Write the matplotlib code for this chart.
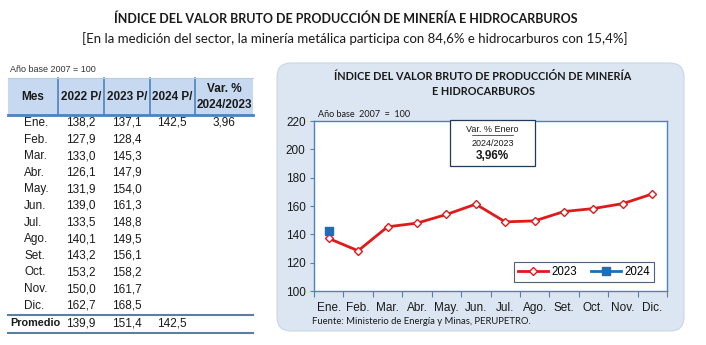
import matplotlib
matplotlib.use("Agg")
from matplotlib import pyplot as plt
from matplotlib.patches import FancyBboxPatch, Rectangle
from matplotlib.lines import Line2D

W, H = 706, 345

MONTHS = ["Ene.", "Feb.", "Mar.", "Abr.", "May.", "Jun.", "Jul.", "Ago.", "Set.", "Oct.", "Nov.", "Dic."]
V2022 = [138.2, 127.9, 133.0, 126.1, 131.9, 139.0, 133.5, 140.1, 143.2, 153.2, 150.0, 162.7]
V2023 = [137.1, 128.4, 145.3, 147.9, 154.0, 161.3, 148.8, 149.5, 156.1, 158.2, 161.7, 168.5]
V2024 = [142.5]
VAR = [3.96]
PROMEDIO = [139.9, 151.4, 142.5]
HEADERS = ["Mes", "2022 P/", "2023 P/", "2024 P/", "Var. %\n2024/2023"]

TITLE = "ÍNDICE DEL VALOR BRUTO DE PRODUCCIÓN DE MINERÍA E HIDROCARBUROS"
SUBTITLE = "[En la medición del sector, la minería metálica participa con 84,6% e hidrocarburos con 15,4%]"
CHART_TITLE = "ÍNDICE DEL VALOR BRUTO DE PRODUCCIÓN DE MINERÍA\nE HIDROCARBUROS"
SOURCE = "Fuente: Ministerio de Energía y Minas, PERUPETRO."

RED = "#e0191b"
BLUE = "#1f6db5"
LINE_BLUE = "#4f81bd"


def fx(x):
    return x / W


def fy(y):
    return 1 - y / H


def fmt(v):
    return f"{v:.1f}".replace(".", ",")


fig = plt.figure(figsize=(W / 100, H / 100), dpi=100)

# titles
fig.text(fx(346), fy(19), TITLE, ha="center", va="center", fontsize=9,
         fontweight="bold", family="Lato", color="#1a1a1a")
fig.text(fx(355), fy(39), SUBTITLE, ha="center", va="center", fontsize=9.5,
         family="Lato", color="#1a1a1a")

# ---- table ----
tf = "Liberation Sans"
fig.text(fx(10), fy(70), "Año base 2007 = 100", ha="left", va="center", fontsize=6.5,
         family=tf, color="#333333")
fig.patches.append(Rectangle((fx(8), fy(115)), fx(253 - 8), (115 - 78) / H,
                             transform=fig.transFigure, facecolor="#c6d9f1",
                             edgecolor="none"))
for xb in [58, 104, 150, 195]:
    fig.lines.append(Line2D([fx(xb), fx(xb)], [fy(78), fy(115)], transform=fig.transFigure,
                            color=LINE_BLUE, lw=1.2))
fig.lines.append(Line2D([fx(8), fx(253)], [fy(78), fy(78)], transform=fig.transFigure,
                        color="#b8cce4", lw=0.8))
fig.lines.append(Line2D([fx(8), fx(253)], [fy(115), fy(115)], transform=fig.transFigure,
                        color=LINE_BLUE, lw=2))

col_x = [33, 81, 127, 172, 224]
for cx, h in zip(col_x, HEADERS):
    fig.text(fx(cx), fy(97), h, ha="center", va="center", fontsize=8.5, fontweight="bold",
             family=tf, color="#1a1a1a", linespacing=1.5)

row_y = [123 + i * 16.6 for i in range(12)]
for i, m in enumerate(MONTHS):
    y = fy(row_y[i])
    fig.text(fx(24), y, m, ha="left", va="center", fontsize=8.5, family=tf, color="#1a1a1a")
    fig.text(fx(col_x[1]), y, fmt(V2022[i]), ha="center", va="center", fontsize=8.5,
             family=tf, color="#1a1a1a")
    fig.text(fx(col_x[2]), y, fmt(V2023[i]), ha="center", va="center", fontsize=8.5,
             family=tf, color="#1a1a1a")
    if i < len(V2024):
        fig.text(fx(col_x[3]), y, fmt(V2024[i]), ha="center", va="center", fontsize=8.5,
                 family=tf, color="#1a1a1a")
        fig.text(fx(col_x[4]), y, f"{VAR[i]:.2f}".replace(".", ","), ha="center",
                 va="center", fontsize=8.5, family=tf, color="#1a1a1a")

fig.lines.append(Line2D([fx(8), fx(253)], [fy(314.5), fy(314.5)], transform=fig.transFigure,
                        color="#5b7fa3", lw=1.5))
fig.lines.append(Line2D([fx(8), fx(253)], [fy(333), fy(333)], transform=fig.transFigure,
                        color="#5b7fa3", lw=1.5))
fig.text(fx(10), fy(323.5), "Promedio", ha="left", va="center", fontsize=7.8,
         fontweight="bold", family=tf, color="#1a1a1a")
for cx, v in zip(col_x[1:4], PROMEDIO):
    fig.text(fx(cx), fy(323.5), fmt(v), ha="center", va="center", fontsize=8.5,
             family=tf, color="#1a1a1a")

# ---- chart panel ----
panel = FancyBboxPatch((fx(277), fy(331)), fx(684 - 277), (331 - 63) / H,
                       boxstyle="round,pad=0,rounding_size=0.02",
                       transform=fig.transFigure, facecolor="#dce6f2",
                       edgecolor="#c9d6e6", lw=0.8, mutation_aspect=W / H, zorder=-5)
fig.patches.append(panel)
fig.text(fx(483), fy(84), CHART_TITLE, ha="center", va="center", fontsize=7.8,
         fontweight="bold", family="Lato", color="#1a1a1a", linespacing=1.4)

ax = fig.add_axes([fx(314), fy(291), fx(667 - 314), (291 - 121) / H])
ax.set_facecolor("white")
x = list(range(len(MONTHS)))
ax.plot(x, V2023, color=RED, lw=2, marker="D", markersize=4.5, markerfacecolor="white",
        markeredgecolor=RED, markeredgewidth=1, label="2023", zorder=3)
ax.plot(x[:len(V2024)], V2024, color=BLUE, lw=2, marker="s", markersize=6,
        markerfacecolor=BLUE, markeredgecolor=BLUE, label="2024", zorder=4)
ax.set_xlim(-0.5, 11.5)
ax.set_ylim(100, 220)
ax.set_yticks(range(100, 221, 20))
ax.set_xticks(x)
ax.set_xticklabels(MONTHS)
ax.set_xticks([i - 0.5 for i in range(13)], minor=True)
ax.tick_params(axis="x", which="major", length=0, pad=8)
ax.tick_params(axis="x", which="minor", length=4, color=LINE_BLUE, width=0.8)
ax.tick_params(axis="y", length=3, color=LINE_BLUE, width=0.8, pad=3)
for lab in ax.get_xticklabels() + ax.get_yticklabels():
    lab.set_fontsize(8.5)
    lab.set_family(tf)
    lab.set_color("#1a1a1a")
for s in ax.spines.values():
    s.set_color(LINE_BLUE)
    s.set_linewidth(1)

ax.text(0.01, 1.01, "Año base  2007  =  100", transform=ax.transAxes, ha="left",
        va="bottom", fontsize=6.5, family="Lato", color="#1a1a1a")

# annotation box
fig.patches.append(Rectangle((fx(450), fy(166)), fx(535 - 450), (166 - 120) / H,
                             transform=fig.transFigure, facecolor="white",
                             edgecolor="#1f3b57", lw=0.9, zorder=5))
fig.text(fx(492.5), fy(130), "Var. % Enero", ha="center", va="center", fontsize=6.5,
         family=tf, color="#1a1a1a", zorder=6)
fig.lines.append(Line2D([fx(472), fx(513)], [fy(134.5), fy(134.5)], transform=fig.transFigure,
                        color="#1a1a1a", lw=0.5, zorder=6))
fig.text(fx(492.5), fy(143), "2024/2023", ha="center", va="center", fontsize=6.5,
         family=tf, color="#1a1a1a", zorder=6)
fig.text(fx(492.5), fy(156), "3,96%", ha="center", va="center", fontsize=8.5,
         fontweight="bold", family=tf, color="#1a1a1a", zorder=6)

leg = ax.legend(loc="lower right", ncol=2, frameon=True, fancybox=False,
                prop={"family": tf, "size": 8.3}, handlelength=2.6, handletextpad=0.3,
                columnspacing=1.2, borderpad=0.35, bbox_to_anchor=(0.98, 0.02))
leg.get_frame().set_edgecolor("#1f3b57")
leg.get_frame().set_linewidth(0.8)

fig.text(fx(312), fy(321), SOURCE, ha="left", va="center", fontsize=6.8, family="Lato",
         color="#1a1a1a")

fig.savefig("out.png", dpi=100)
